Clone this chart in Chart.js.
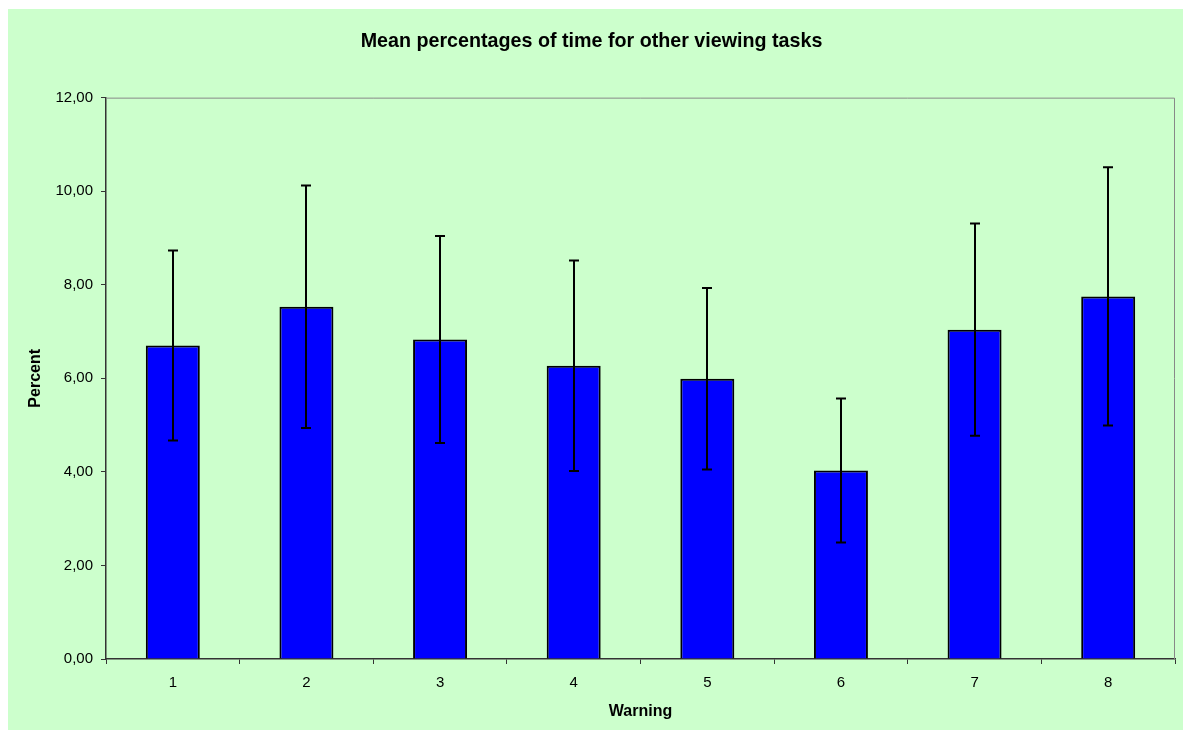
<!DOCTYPE html>
<html>
<head>
<meta charset="utf-8">
<script src="https://cdn.jsdelivr.net/npm/chart.js@4"></script>
<style>
  body { margin: 0; background: #ffffff; }
  canvas { display: block; }
</style>
</head>
<body>
<canvas id="grafico" width="1183" height="731"></canvas>
<script>
// dados
const warnings = ['1', '2', '3', '4', '5', '6', '7', '8'];
const meanPercent = [6.70, 7.53, 6.83, 6.27, 5.99, 4.03, 7.04, 7.75];
const errorPercent = [2.03, 2.59, 2.21, 2.25, 1.94, 1.54, 2.27, 2.76];
const yTicks = [0, 2, 4, 6, 8, 10, 12];

const FONT = "'Liberation Sans', Arial, sans-serif";

// fundo verde e moldura da área do gráfico
const backgroundPlugin = {
    id: 'fundo',
    beforeDraw(chart) {
        const ctx = chart.ctx;
        ctx.save();
        ctx.fillStyle = '#CCFFCC';
        ctx.fillRect(8, 9, 1175, 721);
        ctx.restore();
    },
    beforeDatasetsDraw(chart) {
        const { ctx, chartArea } = chart;
        ctx.save();
        ctx.strokeStyle = '#888888';
        ctx.lineWidth = 1;
        ctx.beginPath();
        ctx.moveTo(chartArea.left, chartArea.top + 0.5);
        ctx.lineTo(chartArea.right - 0.5, chartArea.top + 0.5);
        ctx.lineTo(chartArea.right - 0.5, chartArea.bottom);
        ctx.stroke();
        ctx.restore();
    }
};

// barras de erro desenhadas por cima das barras
const errorBarPlugin = {
    id: 'barrasErro',
    afterDatasetsDraw(chart) {
        const ctx = chart.ctx;
        const yScale = chart.scales.y;
        const meta = chart.getDatasetMeta(0);
        ctx.save();
        ctx.strokeStyle = '#000000';
        ctx.lineWidth = 2;
        meta.data.forEach((bar, i) => {
            const x = Math.round(bar.x);
            const top = yScale.getPixelForValue(meanPercent[i] + errorPercent[i]);
            const bottom = yScale.getPixelForValue(meanPercent[i] - errorPercent[i]);
            ctx.beginPath();
            ctx.moveTo(x, top);
            ctx.lineTo(x, bottom);
            ctx.moveTo(x - 5, top);
            ctx.lineTo(x + 5, top);
            ctx.moveTo(x - 5, bottom);
            ctx.lineTo(x + 5, bottom);
            ctx.stroke();
        });
        ctx.restore();
    }
};

const ctx = document.getElementById('grafico').getContext('2d');
new Chart(ctx, {
    type: 'bar',
    data: {
        labels: warnings,
        datasets: [{
            label: 'Percent',
            data: meanPercent,
            backgroundColor: '#0000FF',
            borderColor: '#000000',
            borderWidth: 2,
            barPercentage: 0.404,
            categoryPercentage: 1.0
        }]
    },
    options: {
        responsive: false,
        animation: false,
        devicePixelRatio: 1,
        layout: { padding: { top: 9, left: 8, right: 8, bottom: 0 } },
        plugins: {
            legend: { display: false },
            tooltip: { enabled: false },
            title: {
                display: true,
                text: 'Mean percentages of time for other viewing tasks',
                color: '#000000',
                font: { family: FONT, size: 19.7, weight: 'bold' },
                padding: { top: 21, bottom: 44 }
            }
        },
        scales: {
            x: {
                offset: true,
                grid: {
                    offset: true,
                    drawOnChartArea: false,
                    drawTicks: true,
                    tickLength: 5,
                    color: '#333333'
                },
                border: { display: true, color: '#333333', width: 1.5 },
                ticks: {
                    color: '#000000',
                    font: { family: FONT, size: 15 },
                    padding: 10,
                    maxRotation: 0
                },
                title: {
                    display: true,
                    text: 'Warning',
                    color: '#000000',
                    font: { family: FONT, size: 16, weight: 'bold' },
                    padding: { top: 0, bottom: 10 }
                },
                afterFit: (scale) => { scale.height = 72; }
            },
            y: {
                min: 0,
                max: 12,
                afterBuildTicks: (scale) => {
                    scale.ticks = yTicks.map(v => ({ value: v }));
                },
                grid: {
                    drawOnChartArea: false,
                    drawTicks: true,
                    tickLength: 5,
                    color: '#333333'
                },
                border: { display: true, color: '#333333', width: 1.5 },
                ticks: {
                    color: '#000000',
                    font: { family: FONT, size: 15 },
                    padding: 8,
                    callback: (value) => Number(value).toFixed(2).replace('.', ',')
                },
                title: {
                    display: true,
                    text: 'Percent',
                    color: '#000000',
                    font: { family: FONT, size: 16, weight: 'bold' },
                    padding: { top: 18, bottom: 0 }
                },
                afterFit: (scale) => { scale.width = 98; }
            }
        }
    },
    plugins: [backgroundPlugin, errorBarPlugin]
});
</script>
</body>
</html>
